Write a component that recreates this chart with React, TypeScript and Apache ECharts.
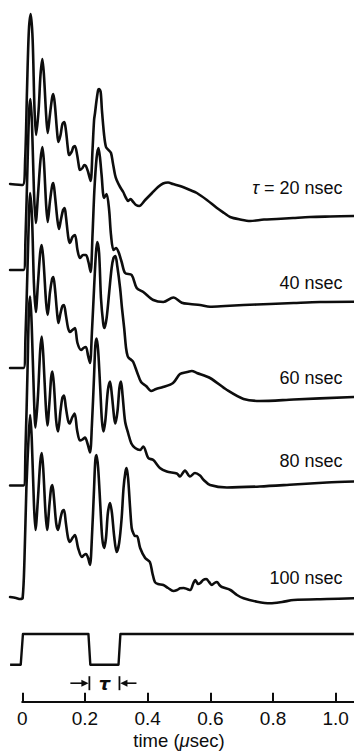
import React, { useEffect, useRef } from "react";
import * as echarts from "echarts";

// time in µs, amplitude in arbitrary units above each trace's baseline
const TRACE_20NS: number[][] = [
  [-0.039, 0], [0.001, -1], [0.009, 24], [0.015, 94], [0.021, 154], [0.027, 170], [0.033, 144], [0.039, 74],
  [0.044, 49], [0.052, 74], [0.058, 109], [0.064, 125], [0.069, 109], [0.076, 69], [0.081, 51], [0.088, 69],
  [0.095, 86], [0.099, 90], [0.104, 79], [0.111, 52], [0.115, 42], [0.122, 49], [0.128, 60], [0.134, 62],
  [0.139, 54], [0.146, 34], [0.149, 29], [0.157, 32], [0.163, 37], [0.168, 38], [0.175, 29], [0.181, 17],
  [0.184, 14], [0.192, 16], [0.198, 19], [0.203, 18], [0.21, 12], [0.218, 3], [0.224, 34], [0.229, 64],
  [0.232, 71], [0.237, 84], [0.242, 94], [0.245, 95], [0.25, 92], [0.254, 74], [0.261, 49], [0.267, 37],
  [0.275, 34], [0.283, 31], [0.289, 21], [0.296, 9], [0.301, 4], [0.312, -3], [0.322, -8], [0.331, -14],
  [0.338, -17], [0.345, -15], [0.354, -18], [0.363, -21], [0.373, -22], [0.392, -16], [0.414, -9], [0.433, -3],
  [0.449, 0.5], [0.465, 1.5], [0.481, 0], [0.503, -2], [0.535, -6], [0.557, -9], [0.589, -16], [0.621, -24],
  [0.644, -29], [0.663, -33], [0.695, -35.5], [0.727, -37], [0.771, -35.5], [0.812, -35], [0.864, -34],
  [0.918, -33], [0.982, -32.5], [1.058, -32],
];

const TRACE_40NS: number[][] = [
  [-0.039, 0], [0.004, 0], [0.01, 30], [0.017, 110], [0.022, 160], [0.026, 171], [0.031, 145], [0.037, 80],
  [0.043, 47], [0.05, 75], [0.058, 110], [0.064, 123], [0.069, 108], [0.076, 65], [0.081, 48], [0.088, 68],
  [0.095, 84], [0.099, 87], [0.104, 75], [0.112, 50], [0.117, 41], [0.123, 50], [0.13, 60], [0.135, 62],
  [0.139, 54], [0.147, 32], [0.152, 27], [0.16, 33], [0.168, 35], [0.176, 20], [0.184, 12], [0.194, 15],
  [0.203, 15], [0.211, 8], [0.218, -2], [0.224, 35], [0.23, 80], [0.237, 112], [0.243, 122], [0.248, 112],
  [0.253, 95], [0.261, 72], [0.269, 76], [0.277, 60], [0.283, 35], [0.291, 20], [0.299, 22], [0.307, 18],
  [0.317, 8], [0.328, -3], [0.349, -5], [0.365, -18], [0.386, -22], [0.418, -30], [0.45, -32], [0.482, -27.5],
  [0.509, -32.7], [0.535, -34], [0.567, -35], [0.599, -36.7], [0.647, -36], [0.706, -35], [0.79, -34],
  [0.866, -33], [0.95, -32], [1.058, -31.7],
];

const TRACE_60NS: number[][] = [
  [-0.039, 0], [0.004, 0], [0.01, 30], [0.017, 105], [0.022, 160], [0.025, 175], [0.031, 150], [0.037, 85],
  [0.043, 56], [0.05, 85], [0.057, 115], [0.062, 123], [0.068, 105], [0.076, 65], [0.081, 53], [0.088, 75],
  [0.095, 89], [0.099, 91], [0.104, 80], [0.111, 55], [0.115, 45], [0.122, 55], [0.128, 62], [0.133, 63],
  [0.139, 53], [0.146, 40], [0.152, 36], [0.16, 38], [0.168, 40], [0.176, 25], [0.188, 18], [0.195, 20],
  [0.203, 21], [0.21, 12], [0.216, 5], [0.222, 35], [0.229, 80], [0.235, 115], [0.239, 126], [0.245, 115],
  [0.251, 70], [0.258, 45], [0.262, 40], [0.269, 50], [0.277, 75], [0.285, 100], [0.291, 110], [0.297, 112],
  [0.303, 102], [0.312, 80], [0.318, 60], [0.325, 40], [0.331, 20], [0.336, 12], [0.34, 10], [0.348, 8],
  [0.354, 6], [0.366, -4], [0.379, -14], [0.395, -18], [0.411, -23], [0.427, -21], [0.449, -19], [0.481, -15],
  [0.503, -6], [0.526, -4], [0.541, -3], [0.557, -5], [0.599, -10], [0.653, -22], [0.706, -31], [0.758, -33],
  [0.866, -31.5], [1.058, -29],
];

const TRACE_80NS: number[][] = [
  [-0.039, 0], [0.004, 0], [0.01, 35], [0.017, 120], [0.021, 175], [0.025, 189], [0.03, 160], [0.037, 90],
  [0.042, 58], [0.05, 90], [0.057, 135], [0.062, 149], [0.067, 130], [0.074, 85], [0.08, 60], [0.087, 85],
  [0.092, 108], [0.096, 114], [0.101, 100], [0.108, 65], [0.114, 54], [0.122, 75], [0.128, 88], [0.133, 90],
  [0.139, 78], [0.146, 65], [0.151, 62], [0.159, 68], [0.167, 72], [0.175, 55], [0.184, 45], [0.192, 46],
  [0.2, 48], [0.208, 42], [0.216, 33], [0.222, 60], [0.229, 110], [0.233, 140], [0.237, 147], [0.242, 135],
  [0.249, 95], [0.254, 65], [0.259, 54], [0.265, 65], [0.273, 95], [0.28, 104], [0.286, 90], [0.293, 68],
  [0.297, 62], [0.304, 75], [0.31, 98], [0.315, 104], [0.32, 90], [0.328, 64], [0.338, 52], [0.348, 42],
  [0.36, 37.5], [0.376, 35.5], [0.386, 39], [0.402, 27.5], [0.418, 25.5], [0.439, 17.5], [0.461, 14],
  [0.493, 12], [0.503, 9], [0.519, 15], [0.535, 9], [0.551, 12.5], [0.567, 10], [0.579, 5.5], [0.599, 0.5],
  [0.653, -2], [0.758, -1], [0.866, 1], [0.972, 3], [1.058, 4],
];

const TRACE_100NS: number[][] = [
  [-0.039, 1], [-0.02, 0], [-0.007, -1], [0.001, 0], [0.007, 40], [0.013, 110], [0.02, 160], [0.025, 183],
  [0.03, 160], [0.037, 95], [0.042, 68], [0.05, 100], [0.057, 135], [0.062, 145], [0.067, 128], [0.074, 85],
  [0.079, 68], [0.087, 95], [0.092, 110], [0.096, 113], [0.101, 100], [0.108, 75], [0.114, 68], [0.122, 80],
  [0.128, 87], [0.133, 88], [0.139, 75], [0.146, 60], [0.152, 56], [0.16, 60], [0.168, 63], [0.178, 50],
  [0.19, 41], [0.197, 43], [0.203, 44], [0.21, 40], [0.216, 33], [0.222, 60], [0.229, 110], [0.233, 138],
  [0.237, 143], [0.242, 130], [0.249, 92], [0.255, 60], [0.261, 50], [0.267, 60], [0.273, 85], [0.28, 95],
  [0.286, 85], [0.293, 62], [0.301, 46], [0.309, 55], [0.317, 80], [0.323, 110], [0.329, 126], [0.333, 130],
  [0.338, 118], [0.344, 90], [0.349, 70], [0.354, 65], [0.36, 62], [0.366, 62], [0.376, 50], [0.392, 40],
  [0.407, 36], [0.415, 25], [0.423, 16], [0.433, 14], [0.45, 13], [0.465, 10], [0.482, 7], [0.494, 8],
  [0.503, 9.7], [0.515, 10], [0.526, 9], [0.536, 8], [0.546, 15], [0.552, 18], [0.561, 14], [0.568, 15],
  [0.577, 18], [0.587, 19], [0.596, 16], [0.605, 13], [0.613, 15], [0.621, 16], [0.629, 13], [0.637, 11],
  [0.664, 8], [0.685, 3], [0.706, -0.3], [0.749, -3.7], [0.791, -5.3], [0.829, -4], [0.866, -2], [0.972, -1],
  [1.058, -0.3],
];

// input pulse: time (µs) and level (0 = low, 1 = high)
const PULSE: number[][] = [
  [-0.039, 0], [-0.005, 0], [0.002, 1], [0.211, 1], [0.217, 0], [0.307, 0], [0.313, 1], [1.058, 1],
];

const TRACES = [TRACE_20NS, TRACE_40NS, TRACE_60NS, TRACE_80NS, TRACE_100NS];
const TRACE_LABELS = ["{i|τ} = 20 nsec", "40 nsec", "60 nsec", "80 nsec", "100 nsec"];
const TICKS = [0, 0.2, 0.4, 0.6, 0.8, 1.0];
const X_TITLE = "time ({i|μ}sec)";

// layout (vertical offsets of each trace baseline, in plot units)
const TRACE_OFFSET = [568, 482, 384, 266.5, 154];
const LABEL_Y = [188, 283, 377.5, 461, 577.5];
const PULSE_BASE = 87.3;
const PULSE_HEIGHT = 30.7;

const W = 354;
const H = 752;
const X_MIN = -0.0712;
const X_MAX = 1.0584;
const INK = "#0d0d0d";
const FONT = "'Liberation Sans', Arial, Helvetica, sans-serif";

export default function App() {
  const ref = useRef<HTMLDivElement>(null);

  useEffect(() => {
    if (!ref.current) return;
    const chart = echarts.init(ref.current, undefined, { renderer: "svg", width: W, height: H });

    const traceSeries = TRACES.map((tr, k) => ({
      type: "line",
      xAxisIndex: 0,
      yAxisIndex: 0,
      symbol: "none",
      smooth: 0.3,
      silent: true,
      lineStyle: { color: INK, width: 2.6, join: "round", cap: "round" },
      data: tr.map(([t, a]) => [t, TRACE_OFFSET[k] + a]),
    }));

    const pulseSeries = {
      type: "line",
      xAxisIndex: 0,
      yAxisIndex: 0,
      symbol: "none",
      silent: true,
      lineStyle: { color: INK, width: 2.4, join: "round" },
      data: PULSE.map(([t, l]) => [t, PULSE_BASE + l * PULSE_HEIGHT]),
    };

    chart.setOption({
      animation: false,
      backgroundColor: "#ffffff",
      grid: [
        { left: 0, right: 0, top: 0, bottom: 0 },
        { left: 22.3, right: 0, top: 680, height: 21.7 },
      ],
      xAxis: [
        { gridIndex: 0, type: "value", min: X_MIN, max: X_MAX, show: false },
        {
          gridIndex: 1,
          type: "value",
          min: 0,
          max: X_MAX,
          axisLine: { show: true, onZero: false, lineStyle: { color: INK, width: 2.2 } },
          axisTick: { show: true, inside: true, length: 9, customValues: TICKS, lineStyle: { color: INK, width: 2 } },
          axisLabel: {
            customValues: TICKS,
            formatter: (v: number) => (v === 0 ? "0" : v.toFixed(1)),
            color: INK,
            fontSize: 19,
            fontFamily: FONT,
            margin: 7,
          },
          splitLine: { show: false },
        },
      ],
      yAxis: [
        { gridIndex: 0, type: "value", min: 0, max: H, show: false },
        { gridIndex: 1, type: "value", min: 0, max: 1, show: false },
      ],
      series: [...traceSeries, pulseSeries],
    });

    const px = (t: number) => chart.convertToPixel({ xAxisIndex: 0 }, t) as number;
    const py = (v: number) => chart.convertToPixel({ yAxisIndex: 0 }, v) as number;
    const xFall = px((PULSE[3][0] + PULSE[4][0]) / 2);
    const xRise = px((PULSE[5][0] + PULSE[6][0]) / 2);
    const yArrow = py(PULSE_BASE) + 18.5;

    const labels = TRACE_LABELS.map((txt, k) => ({
      type: "text",
      x: 342.5,
      y: LABEL_Y[k],
      style: {
        text: txt,
        fill: INK,
        font: `18px ${FONT}`,
        align: "right",
        verticalAlign: "middle",
        rich: { i: { fontStyle: "italic", fontSize: 18, fontFamily: FONT, fill: INK } },
      },
    }));

    chart.setOption({
      graphic: [
        ...labels,
        {
          type: "text",
          x: 179,
          y: 740,
          style: {
            text: X_TITLE,
            fill: INK,
            font: `18.5px ${FONT}`,
            align: "center",
            verticalAlign: "middle",
            rich: { i: { fontStyle: "italic", fontSize: 18.5, fontFamily: FONT, fill: INK } },
          },
        },
        // tau markers
        { type: "line", shape: { x1: xFall, y1: yArrow - 7, x2: xFall, y2: yArrow + 7 }, style: { stroke: INK, lineWidth: 1.8 } },
        { type: "line", shape: { x1: xRise, y1: yArrow - 7, x2: xRise, y2: yArrow + 7 }, style: { stroke: INK, lineWidth: 1.8 } },
        { type: "line", shape: { x1: xFall - 19, y1: yArrow, x2: xFall - 5, y2: yArrow }, style: { stroke: INK, lineWidth: 1.6 } },
        { type: "polygon", shape: { points: [[xFall - 8, yArrow - 3.5], [xFall - 0.8, yArrow], [xFall - 8, yArrow + 3.5]] }, style: { fill: INK } },
        { type: "line", shape: { x1: xRise + 17, y1: yArrow, x2: xRise + 5, y2: yArrow }, style: { stroke: INK, lineWidth: 1.6 } },
        { type: "polygon", shape: { points: [[xRise + 8, yArrow - 3.5], [xRise + 0.8, yArrow], [xRise + 8, yArrow + 3.5]] }, style: { fill: INK } },
        {
          type: "text",
          x: (xFall + xRise) / 2,
          y: yArrow,
          style: {
            text: "τ",
            fill: INK,
            font: `italic bold 18px 'DejaVu Sans', sans-serif`,
            align: "center",
            verticalAlign: "middle",
          },
        },
      ],
    });

    return () => chart.dispose();
  }, []);

  return (
    <div
      ref={ref}
      style={{ position: "fixed", left: 0, top: 0, width: W, height: H, background: "#fff" }}
    />
  );
}
